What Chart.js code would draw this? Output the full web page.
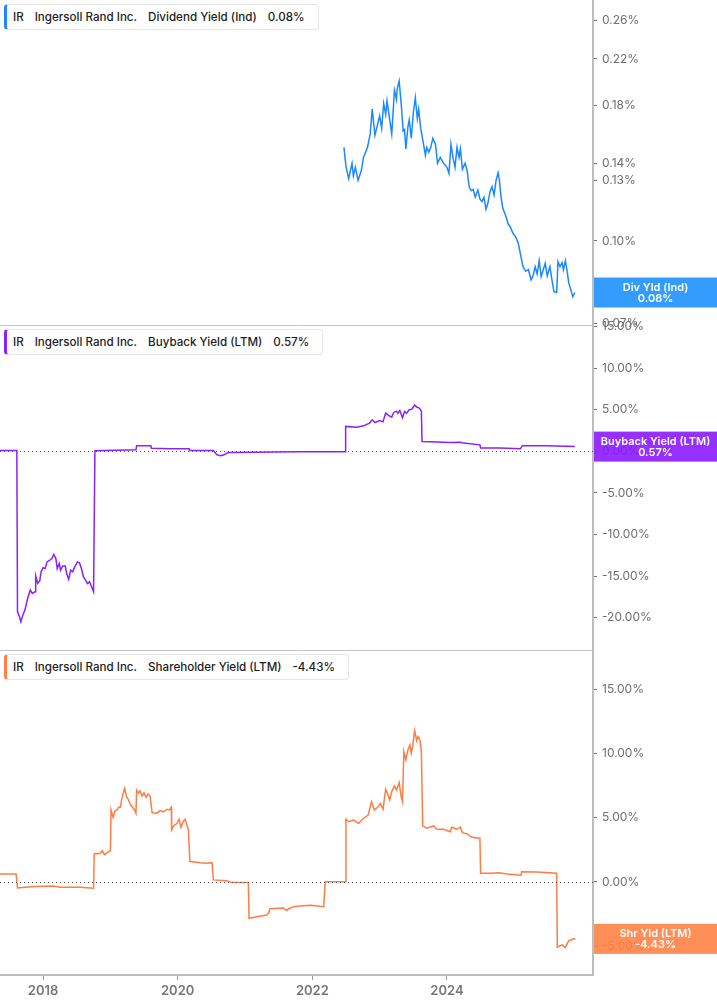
<!DOCTYPE html>
<html>
<head>
<meta charset="utf-8">
<script src="https://cdn.jsdelivr.net/npm/chart.js@4.4.1/dist/chart.umd.min.js"></script>
<style>
  html, body { margin: 0; padding: 0; background: #fff; }
  body { width: 717px; height: 1005px; position: relative; overflow: hidden; font-family: Inter, 'Noto Sans', sans-serif; }
  canvas { position: absolute; left: 0; }
  .legend { position: absolute; left: 4px; height: 24px; display: flex; align-items: center; gap: 11px;
    padding: 0 13px 0 6px; border: 1px solid #e6e6e6; border-left: 3px solid; border-radius: 4px;
    background: #fff; font-size: 11.6px; font-weight: 500; color: #1d1d1d; z-index: 5; white-space: nowrap; }
</style>
</head>
<body>
<canvas id="divChart" width="717" height="365" style="top:-20px"></canvas>
<canvas id="buyChart" width="717" height="365" style="top:305px"></canvas>
<canvas id="shyChart" width="717" height="375" style="top:630px"></canvas>

<div class="legend" id="divLegend" style="top:4px;border-left-color:#1e88ff"></div>
<div class="legend" id="buyLegend" style="top:329px;border-left-color:#8c1eff"></div>
<div class="legend" id="shyLegend" style="top:654px;border-left-color:#ff7f45"></div>

<script>
const ticker = 'IR';
const company = 'Ingersoll Rand Inc.';

const xMin = 2017.36;
const xMax = 2026.17;
const xTicks = [2018, 2020, 2022, 2024];

const divTicks = [0.07, 0.10, 0.13, 0.14, 0.18, 0.22, 0.26];
const buyTicks = [-20, -15, -10, -5, 0, 5, 10, 15];
const shyTicks = [-5, 0, 5, 10, 15];

// Dividend Yield (Ind), %
const divYears = [2022.47, 2022.50, 2022.54, 2022.59, 2022.61, 2022.64, 2022.68, 2022.73, 2022.76, 2022.82,
  2022.86, 2022.89, 2022.93, 2023.00, 2023.03, 2023.06, 2023.09, 2023.11, 2023.15, 2023.18,
  2023.22, 2023.25, 2023.26, 2023.29, 2023.32, 2023.35, 2023.37, 2023.39, 2023.42, 2023.44,
  2023.47, 2023.50, 2023.53, 2023.56, 2023.58, 2023.61, 2023.65, 2023.68, 2023.70, 2023.73,
  2023.76, 2023.79, 2023.83, 2023.86, 2023.90, 2023.95, 2024.00, 2024.03, 2024.06, 2024.09,
  2024.12, 2024.15, 2024.18, 2024.20, 2024.23, 2024.27, 2024.30, 2024.33, 2024.36, 2024.39,
  2024.42, 2024.46, 2024.49, 2024.52, 2024.55, 2024.58, 2024.61, 2024.64, 2024.67, 2024.70,
  2024.73, 2024.76, 2024.78, 2024.80, 2024.83, 2024.87, 2024.91, 2024.94, 2024.98, 2025.02,
  2025.06, 2025.10, 2025.13, 2025.17, 2025.21, 2025.25, 2025.28, 2025.31, 2025.34, 2025.37,
  2025.40, 2025.43, 2025.46, 2025.49, 2025.53, 2025.56, 2025.59, 2025.63, 2025.65, 2025.68,
  2025.71, 2025.73, 2025.76, 2025.79, 2025.81, 2025.84, 2025.87, 2025.90];
const divValues = [0.150, 0.138, 0.131, 0.140, 0.1325, 0.1376, 0.130, 0.136, 0.1436, 0.150,
  0.159, 0.177, 0.158, 0.172, 0.163, 0.1815, 0.173, 0.1835, 0.169, 0.159,
  0.192, 0.1846, 0.193, 0.200, 0.1815, 0.161, 0.162, 0.149, 0.164, 0.169,
  0.156, 0.174, 0.186, 0.170, 0.177, 0.163, 0.1526, 0.145, 0.150, 0.147,
  0.150, 0.156, 0.152, 0.140, 0.1436, 0.140, 0.1376, 0.134, 0.152, 0.1436,
  0.1376, 0.150, 0.1436, 0.149, 0.1364, 0.140, 0.1356, 0.1265, 0.1243, 0.125,
  0.121, 0.1247, 0.120, 0.1186, 0.1208, 0.1147, 0.118, 0.1238, 0.1265, 0.122,
  0.130, 0.1344, 0.130, 0.122, 0.1152, 0.1119, 0.1076, 0.1064, 0.1034, 0.1019,
  0.099, 0.0934, 0.0895, 0.0877, 0.0884, 0.0845, 0.086, 0.0895, 0.0867, 0.0918,
  0.0857, 0.0882, 0.0908, 0.086, 0.0895, 0.0845, 0.0803, 0.080, 0.0914, 0.0895,
  0.0911, 0.0882, 0.0918, 0.087, 0.0833, 0.081, 0.0786, 0.080];

// Buyback Yield (LTM), %
const buyYears = [2017.36, 2017.61, 2017.62, 2017.65, 2017.67, 2017.70, 2017.73, 2017.77, 2017.81, 2017.84,
  2017.88, 2017.89, 2017.92, 2017.95, 2017.97, 2018.00, 2018.03, 2018.06, 2018.10, 2018.13,
  2018.16, 2018.19, 2018.21, 2018.24, 2018.26, 2018.29, 2018.33, 2018.35, 2018.38, 2018.41,
  2018.44, 2018.47, 2018.51, 2018.54, 2018.57, 2018.60, 2018.63, 2018.66, 2018.69, 2018.72,
  2018.75, 2018.77, 2019.38, 2019.39, 2019.60, 2019.61, 2019.89, 2020.17, 2020.175, 2020.53,
  2020.58, 2020.63, 2020.68, 2020.75, 2021.82, 2022.487, 2022.495, 2022.66, 2022.76, 2022.85,
  2022.89, 2022.93, 2023.00, 2023.05, 2023.09, 2023.14, 2023.18, 2023.21, 2023.25, 2023.27,
  2023.30, 2023.34, 2023.37, 2023.40, 2023.44, 2023.48, 2023.52, 2023.55, 2023.59, 2023.62,
  2023.63, 2023.75, 2024.05, 2024.20, 2024.25, 2024.49, 2024.50, 2024.79, 2025.09, 2025.12,
  2025.48, 2025.90];
const buyValues = [0.1, 0.1, -19.3, -19.9, -20.5, -19.7, -19.1, -17.7, -16.7, -17.1,
  -16.9, -15.0, -15.9, -15.6, -14.5, -14.0, -14.1, -13.3, -13.1, -12.9,
  -12.4, -12.9, -14.1, -13.5, -14.3, -13.8, -13.8, -14.7, -15.4, -14.3,
  -14.5, -13.9, -13.3, -13.4, -14.1, -15.1, -15.5, -15.9, -15.7, -16.3,
  -16.9, 0.06, 0.18, 0.66, 0.66, 0.38, 0.3, 0.3, 0.1, 0.1,
  -0.4, -0.54, -0.45, -0.14, -0.05, -0.05, 3.0, 2.9, 3.07, 3.4,
  3.8, 3.47, 3.7, 3.55, 4.6, 4.28, 4.12, 4.68, 4.84, 4.6,
  4.92, 4.04, 4.8, 4.6, 5.0, 5.08, 5.57, 5.33, 5.2, 4.84,
  1.18, 1.14, 1.06, 1.1, 0.99, 0.78, 0.39, 0.39, 0.3, 0.66,
  0.66, 0.57];

// Shareholder Yield (LTM), %
const shyYears = [2017.36, 2017.60, 2017.62, 2017.86, 2018.15, 2018.25, 2018.55, 2018.75, 2018.76, 2018.85,
  2018.88, 2018.91, 2019.00, 2019.01, 2019.04, 2019.07, 2019.10, 2019.12, 2019.15, 2019.17,
  2019.21, 2019.24, 2019.27, 2019.30, 2019.33, 2019.36, 2019.38, 2019.39, 2019.42, 2019.44,
  2019.47, 2019.50, 2019.53, 2019.56, 2019.59, 2019.62, 2019.69, 2019.74, 2019.79, 2019.84,
  2019.88, 2019.905, 2019.91, 2019.94, 2019.99, 2020.02, 2020.05, 2020.08, 2020.11, 2020.16,
  2020.18, 2020.33, 2020.43, 2020.51, 2020.53, 2020.73, 2020.80, 2021.05, 2021.06, 2021.18,
  2021.32, 2021.35, 2021.37, 2021.57, 2021.62, 2021.65, 2021.72, 2021.82, 2021.97, 2022.17,
  2022.19, 2022.49, 2022.50, 2022.54, 2022.61, 2022.69, 2022.76, 2022.83, 2022.88, 2022.92,
  2022.97, 2023.01, 2023.05, 2023.09, 2023.12, 2023.15, 2023.18, 2023.22, 2023.25, 2023.29,
  2023.32, 2023.34, 2023.36, 2023.39, 2023.42, 2023.45, 2023.47, 2023.49, 2023.52, 2023.55,
  2023.57, 2023.60, 2023.62, 2023.64, 2023.70, 2023.80, 2023.85, 2023.95, 2024.05, 2024.07,
  2024.15, 2024.20, 2024.23, 2024.30, 2024.37, 2024.49, 2024.50, 2024.64, 2024.77, 2024.89,
  2025.10, 2025.11, 2025.34, 2025.63, 2025.64, 2025.71, 2025.76, 2025.81, 2025.89, 2025.90];
const shyValues = [0.62, 0.62, -0.47, -0.36, -0.31, -0.41, -0.41, -0.49, 2.18, 2.23,
  2.44, 2.12, 2.44, 5.6, 5.03, 5.55, 5.6, 5.81, 5.81, 6.48,
  7.29, 6.64, 6.38, 5.99, 5.81, 5.6, 5.35, 7.16, 6.9, 7.1,
  6.69, 6.95, 6.59, 6.85, 6.69, 5.39, 5.35, 5.55, 5.45, 5.66,
  5.6, 5.81, 4.05, 4.36, 4.57, 4.88, 4.26, 4.69, 4.88, 4.05,
  1.61, 1.5, 1.45, 1.5, 0.16, 0.1, -0.05, -0.05, -2.83, -2.7,
  -2.57, -2.44, -2.08, -2.02, -2.23, -2.08, -1.92, -1.87, -1.81, -1.92,
  0.02, 0.02, 4.88, 4.69, 4.82, 4.57, 4.96, 5.21, 6.25, 5.6,
  5.81, 6.12, 5.66, 7.21, 6.85, 6.38, 7.03, 7.47, 7.16, 7.73,
  6.64, 6.25, 10.14, 9.49, 10.27, 10.66, 10.02, 10.53, 11.77, 11.0,
  11.31, 11.05, 10.06, 4.36, 4.18, 4.36, 4.1, 4.1, 3.91, 4.26,
  4.1, 4.26, 3.84, 3.74, 3.48, 3.4, 0.68, 0.68, 0.72, 0.62,
  0.52, 0.8, 0.78, 0.68, -5.08, -4.9, -5.11, -4.57, -4.41, -4.43];

const FONT = 'Inter, "Noto Sans", sans-serif';
const AXIS_GREY = '#bdbdbd';

function points(xs, ys) {
  return xs.map((x, i) => ({ x: x, y: ys[i] }));
}

function pct(v) {
  return Number(v).toFixed(2) + '%';
}

// Separator line, dotted zero line and the value box at the right
const panelPlugin = {
  id: 'panel',
  afterDatasetsDraw(chart, args, opts) {
    const { ctx, chartArea, scales } = chart;
    ctx.save();
    if (opts.topLine) {
      ctx.strokeStyle = '#c4c4c4';
      ctx.lineWidth = 1;
      ctx.beginPath();
      ctx.moveTo(0, chartArea.top + 0.5);
      ctx.lineTo(chartArea.right, chartArea.top + 0.5);
      ctx.stroke();
    }
    if (opts.zeroLine) {
      const y = Math.round(scales.y.getPixelForValue(0)) + 0.5;
      ctx.strokeStyle = '#555';
      ctx.lineWidth = 1;
      ctx.setLineDash([1, 3]);
      ctx.beginPath();
      ctx.moveTo(chartArea.left, y);
      ctx.lineTo(chartArea.right, y);
      ctx.stroke();
    }
    ctx.restore();
  },
  afterDraw(chart, args, opts) {
    const { ctx, chartArea, scales } = chart;
    const data = chart.data.datasets[0].data;
    const last = data[data.length - 1].y;
    const y = scales.y.getPixelForValue(last);
    const x0 = chartArea.right + 1;
    const w = chart.width - x0;
    ctx.save();
    ctx.globalAlpha = 0.9;
    ctx.fillStyle = opts.boxColor;
    ctx.fillRect(x0, y - 15, w, 30);
    ctx.globalAlpha = 1;
    ctx.fillStyle = '#fff';
    ctx.font = '600 11px ' + FONT;
    ctx.textAlign = 'center';
    ctx.textBaseline = 'middle';
    ctx.fillText(opts.label, x0 + w / 2, y - 5);
    ctx.fillText(pct(last), x0 + w / 2, y + 6);
    ctx.restore();
  }
};

function yAxis(extra) {
  return Object.assign({
    position: 'right',
    afterFit: s => { s.width = 124; },
    border: { color: AXIS_GREY, width: 2 },
    grid: { drawOnChartArea: false, tickLength: 4, tickColor: '#777', tickWidth: 1 },
    ticks: { color: '#6e6e6e', font: { family: FONT, size: 12 }, padding: 5, autoSkip: false, callback: v => pct(v) }
  }, extra);
}

function hiddenX() {
  return { type: 'linear', min: xMin, max: xMax, display: false };
}

function makeChart(id, color, xs, ys, xScale, yScale, bottom, panel) {
  return new Chart(document.getElementById(id), {
    type: 'line',
    data: {
      datasets: [{
        data: points(xs, ys),
        borderColor: color,
        borderWidth: 1.5,
        pointRadius: 0,
        tension: 0,
        fill: false
      }]
    },
    options: {
      responsive: false,
      animation: false,
      events: [],
      layout: { padding: { top: 20, bottom: bottom, left: 0, right: 0 } },
      scales: { x: xScale, y: yScale },
      plugins: { legend: { display: false }, tooltip: { enabled: false }, panel: panel }
    },
    plugins: [panelPlugin]
  });
}

makeChart('divChart', 'rgb(28,136,255)', divYears, divValues, hiddenX(),
  yAxis({
    type: 'logarithmic', min: 0.0695, max: 0.284,
    afterBuildTicks: s => { s.ticks = divTicks.map(v => ({ value: v })); }
  }),
  20, { topLine: false, zeroLine: false, boxColor: 'rgb(30,144,255)', label: 'Div Yld (Ind)' });

makeChart('buyChart', 'rgb(140,32,255)', buyYears, buyValues, hiddenX(),
  yAxis({
    type: 'linear', min: -23.9, max: 15.2,
    afterBuildTicks: s => { s.ticks = buyTicks.map(v => ({ value: v })); }
  }),
  20, { topLine: true, zeroLine: true, boxColor: 'rgb(140,26,255)', label: 'Buyback Yield (LTM)' });

makeChart('shyChart', 'rgb(255,125,66)', shyYears, shyValues, {
    type: 'linear', min: xMin, max: xMax, position: 'bottom',
    afterFit: s => { s.height = 30; },
    afterBuildTicks: s => { s.ticks = xTicks.map(v => ({ value: v })); },
    border: { color: AXIS_GREY, width: 2 },
    grid: { drawOnChartArea: false, tickLength: 5, tickColor: '#999', tickWidth: 1 },
    ticks: { color: '#777', font: { family: FONT, size: 13, weight: '600' }, padding: 3, maxRotation: 0, autoSkip: false, callback: v => String(v) }
  },
  yAxis({
    type: 'linear', min: -7.24, max: 18.05,
    afterBuildTicks: s => { s.ticks = shyTicks.map(v => ({ value: v })); }
  }),
  0, { topLine: true, zeroLine: true, boxColor: 'rgb(255,130,70)', label: 'Shr Yld (LTM)' });

function fillLegend(id, name, values) {
  const el = document.getElementById(id);
  [ticker, company, name, pct(values[values.length - 1])].forEach(t => {
    const s = document.createElement('span');
    s.textContent = t;
    el.appendChild(s);
  });
}

fillLegend('divLegend', 'Dividend Yield (Ind)', divValues);
fillLegend('buyLegend', 'Buyback Yield (LTM)', buyValues);
fillLegend('shyLegend', 'Shareholder Yield (LTM)', shyValues);
</script>
</body>
</html>
